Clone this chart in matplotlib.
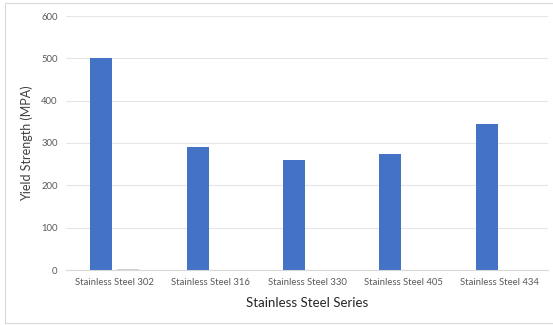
import numpy as np
import matplotlib.pyplot as plt
from matplotlib.patches import Rectangle

plt.rcParams['font.family'] = ['Lato', 'DejaVu Sans']

grades = ["Stainless Steel 302", "Stainless Steel 316", "Stainless Steel 330",
          "Stainless Steel 405", "Stainless Steel 434"]
yield_strength = [500, 290, 260, 275, 345]
second_series = [2, 0, 0, 0, 0]

fig = plt.figure(figsize=(5.53, 3.25), dpi=100)
# chart frame
fig.patches.append(Rectangle((5 / 553, 2 / 325), 560 / 553, 320 / 325,
                             transform=fig.transFigure, fill=False,
                             edgecolor='#d9d9d9', linewidth=0.8))

ax = fig.add_axes([66 / 553, 1 - 270 / 325, 482 / 553, 254 / 325])
x = np.arange(len(grades))
w = 0.227
ax.bar(x - 0.135, yield_strength, width=w, color='#4472c4', zorder=3)
ax.bar(x + 0.14, second_series, width=w, color='#d0d0d0', zorder=3)

ax.set_xlim(-0.5, len(grades) - 0.5)
ax.set_ylim(0, 600)
ax.set_yticks(range(0, 601, 100))
ax.set_xticks(x)
ax.set_xticklabels(grades)
ax.grid(axis='y', color='#e6e6e6', linewidth=0.8, zorder=0)
ax.tick_params(length=0, labelsize=6.8, labelcolor='#595959', pad=6)
for s in ['top', 'right', 'left']:
    ax.spines[s].set_visible(False)
ax.spines['bottom'].set_color('#d9d9d9')

ax.set_ylabel("Yield Strength (MPA)", fontsize=9, color='#404040', labelpad=6)
ax.set_xlabel("Stainless Steel Series", fontsize=9.5, color='#262626', labelpad=7)

fig.savefig("out.png", dpi=100)
